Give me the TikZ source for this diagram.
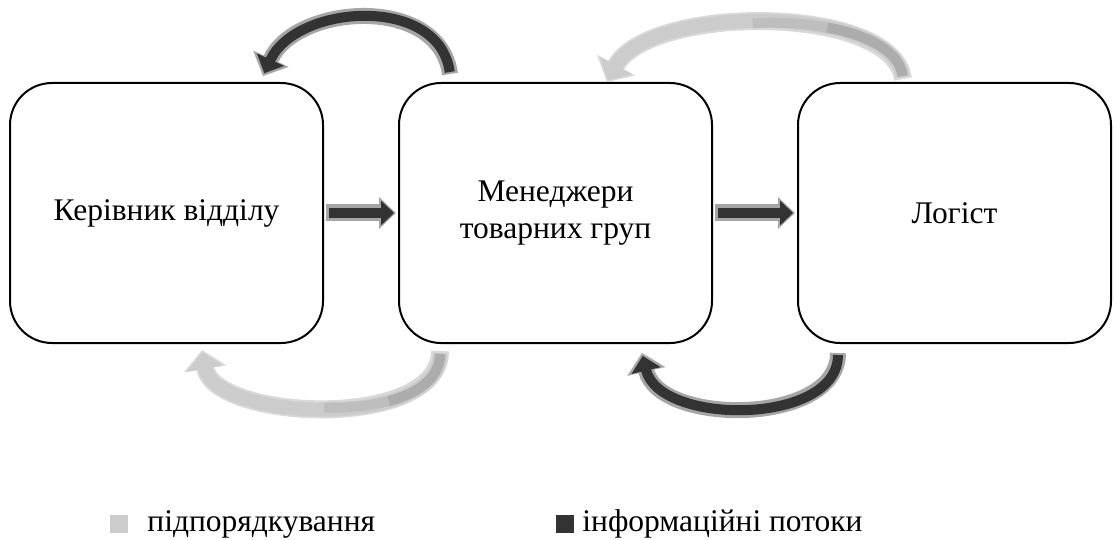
\documentclass[tikz,border=0pt]{standalone}
\usepackage{fontspec}
\setmainfont{Liberation Serif}
\usetikzlibrary{arrows.meta,positioning}
\definecolor{infodark}{RGB}{51, 51, 51}
\definecolor{infoedge}{RGB}{166, 166, 166}
\definecolor{sublight}{RGB}{204, 204, 204}
\definecolor{subedge}{RGB}{217, 217, 217}
\definecolor{subshade}{RGB}{172, 172, 172}
\definecolor{subhalf}{RGB}{190, 190, 190}
\tikzset{
    unit/.style={draw, line width=2pt, rounded corners=42pt, minimum width=313pt, minimum height=260pt,
                 align=center, font=\fontsize{31.5}{37}\selectfont},
    legtext/.style={inner sep=0pt, font=\fontsize{31.5}{37}\selectfont},
    % straight arrows
    flatouter/.style={infoedge, line width=17pt, shorten <=2pt, shorten >=2pt, -{Triangle[length=17pt,width=31pt]}},
    flatinner/.style={infodark, line width=10pt, shorten <=5pt, shorten >=4pt, -{Triangle[length=13pt,width=24pt]}},
    % curved arrows
    infoouter/.style={infoedge, line width=16pt, -{Triangle[length=19pt,width=38pt]}},
    infoinner/.style={infodark, line width=10pt, shorten <=2pt, shorten >=3pt, -{Triangle[length=15pt,width=29pt]}},
    subouter/.style={subedge, line width=18pt, -{Triangle[length=19pt,width=42pt]}},
    subinner/.style={sublight, line width=14pt, shorten <=2pt, shorten >=2pt, -{Triangle[length=17pt,width=36pt]}},
    subtail/.style={line width=10pt, shorten <=3pt, dash pattern=on #1 off 2000pt}
}
\begin{document}
\begin{tikzpicture}[x=1pt, y=-1pt]
            \useasboundingbox (0,0) rectangle (1120,540);
            % Units
            \node[unit] (kerivnyk)   at (166.5, 213) {Керівник відділу};
            \node[unit] (menedzhery) at (555.5, 213) {Менеджери\\товарних груп};
            \node[unit] (logist)     at (954.5, 213) {Логіст};
            % Straight flows
            \draw[flatouter] (kerivnyk.east) -- (menedzhery.west);
            \draw[flatinner] (kerivnyk.east) -- (menedzhery.west);
            \draw[flatouter] (menedzhery.east) -- (logist.west);
            \draw[flatinner] (menedzhery.east) -- (logist.west);
            % Ends of the curved arrows
            \coordinate (tlfrom) at ([xshift=52pt,  yshift=8pt]menedzhery.north west);
            \coordinate (tlto)   at ([xshift=-61pt, yshift=6pt]kerivnyk.north east);
            \coordinate (trfrom) at ([xshift=106pt, yshift=3pt]logist.north west);
            \coordinate (trto)   at ([xshift=209pt, yshift=0pt]menedzhery.north west);
            \coordinate (blfrom) at ([xshift=42pt,  yshift=-7pt]menedzhery.south west);
            \coordinate (blto)   at ([xshift=193pt, yshift=-6pt]kerivnyk.south west);
            \coordinate (brfrom) at ([xshift=41pt,  yshift=-9pt]logist.south west);
            \coordinate (brto)   at ([xshift=244pt, yshift=-9pt]menedzhery.south west);
            % Curved flows, top
            \draw[infoouter] (tlfrom) .. controls +(-11,-80) and +(33,-72) .. (tlto);
            \draw[infoinner] (tlfrom) .. controls +(-11,-80) and +(33,-72) .. (tlto);
            \draw[subouter]  (trfrom) .. controls +(-10,-75) and +(42,-78) .. (trto);
            \draw[subinner]  (trfrom) .. controls +(-10,-75) and +(42,-78) .. (trto);
            \draw[subtail=170pt, subhalf]  (trfrom) .. controls +(-10,-75) and +(42,-78) .. (trto);
            \draw[subtail=95pt,  subshade] (trfrom) .. controls +(-10,-75) and +(42,-78) .. (trto);
            % Curved flows, bottom
            \draw[subouter]  (blfrom) .. controls +(0,80) and +(12,71) .. (blto);
            \draw[subinner]  (blfrom) .. controls +(0,80) and +(12,71) .. (blto);
            \draw[subtail=140pt, subhalf]  (blfrom) .. controls +(0,80) and +(12,71) .. (blto);
            \draw[subtail=75pt,  subshade] (blfrom) .. controls +(0,80) and +(12,71) .. (blto);
            \draw[infoouter] (brfrom) .. controls +(0,73) and +(17,73) .. (brto);
            \draw[infoinner] (brfrom) .. controls +(0,73) and +(17,73) .. (brto);
            % Legend
            \node[fill=sublight, minimum size=18pt, inner sep=0pt] (legsubbox)  at (119, 524) {};
            \node[legtext, right=19pt of legsubbox]                (legsub)     {підпорядкування};
            \node[fill=infodark, minimum size=18pt, inner sep=0pt] (leginfobox) at (565, 524) {};
            \node[legtext, right=8pt of leginfobox]                (leginfo)    {інформаційні потоки};
\end{tikzpicture}
\end{document}
